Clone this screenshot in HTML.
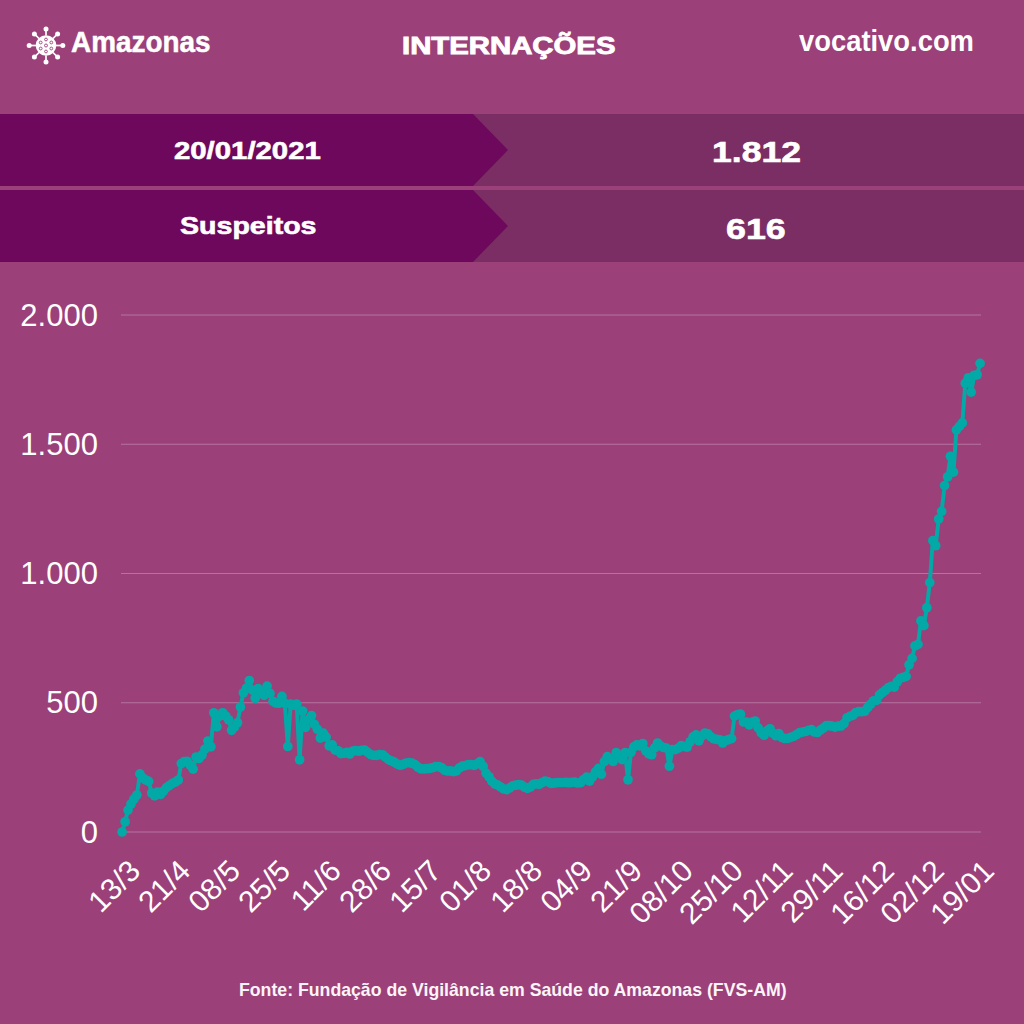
<!DOCTYPE html>
<html><head><meta charset="utf-8">
<style>
html,body{margin:0;padding:0;}
body{width:1024px;height:1024px;overflow:hidden;background:#9B4079;position:relative;font-family:"Liberation Sans",sans-serif;color:#fff;}
.a{position:absolute;white-space:nowrap;}
.band{position:absolute;left:0;width:1024px;height:72px;background:#7B2E63;}
.bl{position:absolute;left:0;top:0;width:508px;height:72px;background:#6E085C;clip-path:polygon(0 0,473px 0,508px 36px,473px 72px,0 72px);}
.hb{font-weight:bold;transform-origin:0 0;}
.xl{width:0;height:0;}
.xl span{position:absolute;right:0;top:0;font-size:30px;line-height:30px;transform-origin:100% 0;transform:rotate(-45deg);}
</style></head><body>
<svg class="a" style="left:0;top:0" width="1024" height="1024" viewBox="0 0 1024 1024">
<g stroke="#B573A1" stroke-width="1.2">
<line x1="121" y1="315" x2="981" y2="315"/>
<line x1="121" y1="444.25" x2="981" y2="444.25"/>
<line x1="121" y1="573.5" x2="981" y2="573.5"/>
<line x1="121" y1="702.75" x2="981" y2="702.75"/>
<line x1="121" y1="832" x2="981" y2="832"/>
</g>
<!--ICON-->
<g transform="translate(46,45.5)" fill="#fff" stroke="#fff">
<circle r="10.3" stroke="none"/>
<g stroke-width="1.7">
<line x1="0" y1="-10" x2="0" y2="-16.5"/><line x1="0" y1="10" x2="0" y2="16.5"/>
<line x1="-10" y1="0" x2="-16.8" y2="0"/><line x1="10" y1="0" x2="16.8" y2="0"/>
<line x1="7" y1="-7" x2="11.6" y2="-11.6"/><line x1="-7" y1="-7" x2="-11.6" y2="-11.6"/>
<line x1="7" y1="7" x2="11.6" y2="11.6"/><line x1="-7" y1="7" x2="-11.6" y2="11.6"/>
</g>
<g stroke="none">
<circle cx="0" cy="-16.5" r="2.5"/><circle cx="0" cy="16.5" r="2.5"/><circle cx="-16.8" cy="0" r="2.5"/><circle cx="16.8" cy="0" r="2.5"/>
<circle cx="11.6" cy="-11.6" r="2.5"/><circle cx="-11.6" cy="-11.6" r="2.5"/><circle cx="11.6" cy="11.6" r="2.5"/><circle cx="-11.6" cy="11.6" r="2.5"/>
</g>
<g fill="none" stroke="#9B4079" stroke-width="0.9">
<circle cx="0" cy="0" r="1.5"/><circle cx="0" cy="-6" r="1.4"/><circle cx="0" cy="6" r="1.4"/>
<circle cx="-5.3" cy="-3" r="1.4"/><circle cx="5.3" cy="-3" r="1.4"/><circle cx="-5.3" cy="3" r="1.4"/><circle cx="5.3" cy="3" r="1.4"/>
</g>
</g>
<path d="M122.1,832.0 L125.1,821.8 L128.0,810.1 L131.0,804.0 L133.9,799.2 L136.9,795.0 L139.9,773.9 L142.8,778.0 L145.8,780.0 L148.7,781.4 L151.7,793.0 L154.6,795.8 L157.6,792.0 L160.6,794.4 L163.5,791.0 L166.5,787.6 L169.4,785.5 L172.4,783.4 L175.4,782.0 L178.3,780.0 L181.3,763.5 L184.2,761.5 L187.2,761.3 L190.1,765.0 L193.1,769.1 L196.1,757.0 L199.0,758.5 L202.0,755.0 L204.9,749.0 L207.9,741.0 L210.9,746.8 L213.8,712.8 L216.8,726.8 L219.7,716.0 L222.7,712.8 L225.7,716.0 L228.6,719.8 L231.6,730.3 L234.5,727.0 L237.5,722.7 L240.4,707.0 L243.4,692.8 L246.4,688.1 L249.3,680.5 L252.3,690.0 L255.2,698.3 L258.2,688.6 L261.2,692.0 L264.1,695.4 L267.1,686.1 L270.0,693.4 L273.0,701.3 L275.9,703.0 L278.9,703.2 L281.9,696.4 L284.8,703.2 L287.8,746.5 L290.7,704.2 L293.7,705.2 L296.7,704.2 L299.6,759.8 L302.6,711.0 L305.5,727.3 L308.5,719.5 L311.5,715.6 L314.4,724.4 L317.4,729.3 L320.3,738.1 L323.3,733.2 L326.2,737.1 L329.2,745.9 L332.2,744.9 L335.1,750.0 L338.1,750.8 L341.0,753.6 L344.0,753.2 L347.0,752.4 L349.9,754.0 L352.9,751.0 L355.8,750.7 L358.8,751.2 L361.7,750.3 L364.7,750.2 L367.7,752.4 L370.6,754.6 L373.6,755.3 L376.5,755.3 L379.5,754.6 L382.5,754.8 L385.4,757.1 L388.4,759.6 L391.3,760.8 L394.3,762.2 L397.3,764.1 L400.2,765.2 L403.2,764.4 L406.1,763.0 L409.1,762.6 L412.0,763.2 L415.0,764.6 L418.0,767.2 L420.9,768.8 L423.9,768.9 L426.8,768.7 L429.8,768.4 L432.8,767.6 L435.7,766.7 L438.7,766.5 L441.6,767.7 L444.6,770.2 L447.5,771.0 L450.5,770.8 L453.5,771.6 L456.4,770.8 L459.4,767.9 L462.3,766.2 L465.3,765.6 L468.3,764.7 L471.2,764.7 L474.2,765.4 L477.1,763.9 L480.1,761.6 L483.1,766.3 L486.0,773.1 L489.0,776.8 L491.9,781.3 L494.9,784.0 L497.8,785.1 L500.8,787.1 L503.8,789.0 L506.7,789.6 L509.7,787.9 L512.6,785.9 L515.6,785.2 L518.6,784.7 L521.5,785.2 L524.5,787.2 L527.4,788.4 L530.4,787.0 L533.3,784.4 L536.3,783.8 L539.3,784.2 L542.2,782.5 L545.2,781.0 L548.1,781.8 L551.1,783.3 L554.1,783.1 L557.0,782.6 L560.0,782.5 L562.9,782.5 L565.9,782.4 L568.9,782.7 L571.8,782.3 L574.8,782.0 L577.7,783.0 L580.7,782.6 L583.6,779.5 L586.6,777.1 L589.6,781.1 L592.5,776.7 L595.5,771.9 L598.4,768.4 L601.4,774.2 L604.4,761.5 L607.3,756.6 L610.3,759.0 L613.2,761.5 L616.2,752.7 L619.1,756.3 L622.1,759.6 L625.1,752.7 L628.0,779.8 L631.0,752.3 L633.9,746.9 L636.9,744.9 L639.9,745.9 L642.8,743.5 L645.8,750.8 L648.7,753.7 L651.7,754.7 L654.7,747.9 L657.6,743.0 L660.6,745.9 L663.5,747.5 L666.5,748.1 L669.4,766.2 L672.4,749.6 L675.4,749.6 L678.3,748.1 L681.3,745.7 L684.2,746.6 L687.2,747.1 L690.2,741.8 L693.1,736.9 L696.1,734.9 L699.0,740.8 L702.0,735.9 L704.9,733.0 L707.9,733.9 L710.9,736.9 L713.8,738.8 L716.8,739.3 L719.7,739.8 L722.7,743.0 L725.7,740.6 L728.6,739.6 L731.6,738.6 L734.5,716.1 L737.5,714.7 L740.5,714.2 L743.4,722.0 L746.4,722.0 L749.3,724.9 L752.3,722.0 L755.2,721.0 L758.2,727.9 L761.2,732.7 L764.1,735.2 L767.1,730.8 L770.0,728.8 L773.0,733.2 L776.0,735.7 L778.9,733.7 L781.9,737.5 L784.8,738.5 L787.8,738.4 L790.7,737.4 L793.7,736.4 L796.7,734.5 L799.6,732.7 L802.6,732.0 L805.5,731.5 L808.5,730.3 L811.5,729.6 L814.4,732.0 L817.4,732.5 L820.3,730.1 L823.3,728.1 L826.3,725.7 L829.2,725.7 L832.2,726.2 L835.1,727.1 L838.1,726.2 L841.0,726.0 L844.0,723.5 L847.0,717.9 L849.9,716.4 L852.9,715.4 L855.8,712.5 L858.8,711.5 L861.8,711.7 L864.7,711.2 L867.7,707.6 L870.6,704.2 L873.6,700.8 L876.5,700.3 L879.5,694.9 L882.5,692.5 L885.4,690.3 L888.4,687.6 L891.3,686.4 L894.3,687.1 L897.3,681.8 L900.2,678.4 L903.2,677.4 L906.1,676.4 L909.1,664.7 L912.1,658.4 L915.0,645.9 L918.0,644.4 L920.9,620.9 L923.9,625.6 L926.8,607.7 L929.8,582.6 L932.8,540.6 L935.7,545.7 L938.7,519.0 L941.6,511.4 L944.6,485.6 L947.6,476.8 L950.5,456.3 L953.5,472.1 L956.4,429.9 L959.4,426.4 L962.3,422.9 L965.3,383.2 L968.3,377.8 L971.2,392.1 L974.2,375.3 L977.1,374.8 L980.1,363.4" fill="none" stroke="#02A9A6" stroke-width="4" stroke-linejoin="round"/><g fill="#02A9A6"><circle cx="122.1" cy="832.0" r="4.85"/><circle cx="125.1" cy="821.8" r="4.85"/><circle cx="128.0" cy="810.1" r="4.85"/><circle cx="131.0" cy="804.0" r="4.85"/><circle cx="133.9" cy="799.2" r="4.85"/><circle cx="136.9" cy="795.0" r="4.85"/><circle cx="139.9" cy="773.9" r="4.85"/><circle cx="142.8" cy="778.0" r="4.85"/><circle cx="145.8" cy="780.0" r="4.85"/><circle cx="148.7" cy="781.4" r="4.85"/><circle cx="151.7" cy="793.0" r="4.85"/><circle cx="154.6" cy="795.8" r="4.85"/><circle cx="157.6" cy="792.0" r="4.85"/><circle cx="160.6" cy="794.4" r="4.85"/><circle cx="163.5" cy="791.0" r="4.85"/><circle cx="166.5" cy="787.6" r="4.85"/><circle cx="169.4" cy="785.5" r="4.85"/><circle cx="172.4" cy="783.4" r="4.85"/><circle cx="175.4" cy="782.0" r="4.85"/><circle cx="178.3" cy="780.0" r="4.85"/><circle cx="181.3" cy="763.5" r="4.85"/><circle cx="184.2" cy="761.5" r="4.85"/><circle cx="187.2" cy="761.3" r="4.85"/><circle cx="190.1" cy="765.0" r="4.85"/><circle cx="193.1" cy="769.1" r="4.85"/><circle cx="196.1" cy="757.0" r="4.85"/><circle cx="199.0" cy="758.5" r="4.85"/><circle cx="202.0" cy="755.0" r="4.85"/><circle cx="204.9" cy="749.0" r="4.85"/><circle cx="207.9" cy="741.0" r="4.85"/><circle cx="210.9" cy="746.8" r="4.85"/><circle cx="213.8" cy="712.8" r="4.85"/><circle cx="216.8" cy="726.8" r="4.85"/><circle cx="219.7" cy="716.0" r="4.85"/><circle cx="222.7" cy="712.8" r="4.85"/><circle cx="225.7" cy="716.0" r="4.85"/><circle cx="228.6" cy="719.8" r="4.85"/><circle cx="231.6" cy="730.3" r="4.85"/><circle cx="234.5" cy="727.0" r="4.85"/><circle cx="237.5" cy="722.7" r="4.85"/><circle cx="240.4" cy="707.0" r="4.85"/><circle cx="243.4" cy="692.8" r="4.85"/><circle cx="246.4" cy="688.1" r="4.85"/><circle cx="249.3" cy="680.5" r="4.85"/><circle cx="252.3" cy="690.0" r="4.85"/><circle cx="255.2" cy="698.3" r="4.85"/><circle cx="258.2" cy="688.6" r="4.85"/><circle cx="261.2" cy="692.0" r="4.85"/><circle cx="264.1" cy="695.4" r="4.85"/><circle cx="267.1" cy="686.1" r="4.85"/><circle cx="270.0" cy="693.4" r="4.85"/><circle cx="273.0" cy="701.3" r="4.85"/><circle cx="275.9" cy="703.0" r="4.85"/><circle cx="278.9" cy="703.2" r="4.85"/><circle cx="281.9" cy="696.4" r="4.85"/><circle cx="284.8" cy="703.2" r="4.85"/><circle cx="287.8" cy="746.5" r="4.85"/><circle cx="290.7" cy="704.2" r="4.85"/><circle cx="293.7" cy="705.2" r="4.85"/><circle cx="296.7" cy="704.2" r="4.85"/><circle cx="299.6" cy="759.8" r="4.85"/><circle cx="302.6" cy="711.0" r="4.85"/><circle cx="305.5" cy="727.3" r="4.85"/><circle cx="308.5" cy="719.5" r="4.85"/><circle cx="311.5" cy="715.6" r="4.85"/><circle cx="314.4" cy="724.4" r="4.85"/><circle cx="317.4" cy="729.3" r="4.85"/><circle cx="320.3" cy="738.1" r="4.85"/><circle cx="323.3" cy="733.2" r="4.85"/><circle cx="326.2" cy="737.1" r="4.85"/><circle cx="329.2" cy="745.9" r="4.85"/><circle cx="332.2" cy="744.9" r="4.85"/><circle cx="335.1" cy="750.0" r="4.85"/><circle cx="338.1" cy="750.8" r="4.85"/><circle cx="341.0" cy="753.6" r="4.85"/><circle cx="344.0" cy="753.2" r="4.85"/><circle cx="347.0" cy="752.4" r="4.85"/><circle cx="349.9" cy="754.0" r="4.85"/><circle cx="352.9" cy="751.0" r="4.85"/><circle cx="355.8" cy="750.7" r="4.85"/><circle cx="358.8" cy="751.2" r="4.85"/><circle cx="361.7" cy="750.3" r="4.85"/><circle cx="364.7" cy="750.2" r="4.85"/><circle cx="367.7" cy="752.4" r="4.85"/><circle cx="370.6" cy="754.6" r="4.85"/><circle cx="373.6" cy="755.3" r="4.85"/><circle cx="376.5" cy="755.3" r="4.85"/><circle cx="379.5" cy="754.6" r="4.85"/><circle cx="382.5" cy="754.8" r="4.85"/><circle cx="385.4" cy="757.1" r="4.85"/><circle cx="388.4" cy="759.6" r="4.85"/><circle cx="391.3" cy="760.8" r="4.85"/><circle cx="394.3" cy="762.2" r="4.85"/><circle cx="397.3" cy="764.1" r="4.85"/><circle cx="400.2" cy="765.2" r="4.85"/><circle cx="403.2" cy="764.4" r="4.85"/><circle cx="406.1" cy="763.0" r="4.85"/><circle cx="409.1" cy="762.6" r="4.85"/><circle cx="412.0" cy="763.2" r="4.85"/><circle cx="415.0" cy="764.6" r="4.85"/><circle cx="418.0" cy="767.2" r="4.85"/><circle cx="420.9" cy="768.8" r="4.85"/><circle cx="423.9" cy="768.9" r="4.85"/><circle cx="426.8" cy="768.7" r="4.85"/><circle cx="429.8" cy="768.4" r="4.85"/><circle cx="432.8" cy="767.6" r="4.85"/><circle cx="435.7" cy="766.7" r="4.85"/><circle cx="438.7" cy="766.5" r="4.85"/><circle cx="441.6" cy="767.7" r="4.85"/><circle cx="444.6" cy="770.2" r="4.85"/><circle cx="447.5" cy="771.0" r="4.85"/><circle cx="450.5" cy="770.8" r="4.85"/><circle cx="453.5" cy="771.6" r="4.85"/><circle cx="456.4" cy="770.8" r="4.85"/><circle cx="459.4" cy="767.9" r="4.85"/><circle cx="462.3" cy="766.2" r="4.85"/><circle cx="465.3" cy="765.6" r="4.85"/><circle cx="468.3" cy="764.7" r="4.85"/><circle cx="471.2" cy="764.7" r="4.85"/><circle cx="474.2" cy="765.4" r="4.85"/><circle cx="477.1" cy="763.9" r="4.85"/><circle cx="480.1" cy="761.6" r="4.85"/><circle cx="483.1" cy="766.3" r="4.85"/><circle cx="486.0" cy="773.1" r="4.85"/><circle cx="489.0" cy="776.8" r="4.85"/><circle cx="491.9" cy="781.3" r="4.85"/><circle cx="494.9" cy="784.0" r="4.85"/><circle cx="497.8" cy="785.1" r="4.85"/><circle cx="500.8" cy="787.1" r="4.85"/><circle cx="503.8" cy="789.0" r="4.85"/><circle cx="506.7" cy="789.6" r="4.85"/><circle cx="509.7" cy="787.9" r="4.85"/><circle cx="512.6" cy="785.9" r="4.85"/><circle cx="515.6" cy="785.2" r="4.85"/><circle cx="518.6" cy="784.7" r="4.85"/><circle cx="521.5" cy="785.2" r="4.85"/><circle cx="524.5" cy="787.2" r="4.85"/><circle cx="527.4" cy="788.4" r="4.85"/><circle cx="530.4" cy="787.0" r="4.85"/><circle cx="533.3" cy="784.4" r="4.85"/><circle cx="536.3" cy="783.8" r="4.85"/><circle cx="539.3" cy="784.2" r="4.85"/><circle cx="542.2" cy="782.5" r="4.85"/><circle cx="545.2" cy="781.0" r="4.85"/><circle cx="548.1" cy="781.8" r="4.85"/><circle cx="551.1" cy="783.3" r="4.85"/><circle cx="554.1" cy="783.1" r="4.85"/><circle cx="557.0" cy="782.6" r="4.85"/><circle cx="560.0" cy="782.5" r="4.85"/><circle cx="562.9" cy="782.5" r="4.85"/><circle cx="565.9" cy="782.4" r="4.85"/><circle cx="568.9" cy="782.7" r="4.85"/><circle cx="571.8" cy="782.3" r="4.85"/><circle cx="574.8" cy="782.0" r="4.85"/><circle cx="577.7" cy="783.0" r="4.85"/><circle cx="580.7" cy="782.6" r="4.85"/><circle cx="583.6" cy="779.5" r="4.85"/><circle cx="586.6" cy="777.1" r="4.85"/><circle cx="589.6" cy="781.1" r="4.85"/><circle cx="592.5" cy="776.7" r="4.85"/><circle cx="595.5" cy="771.9" r="4.85"/><circle cx="598.4" cy="768.4" r="4.85"/><circle cx="601.4" cy="774.2" r="4.85"/><circle cx="604.4" cy="761.5" r="4.85"/><circle cx="607.3" cy="756.6" r="4.85"/><circle cx="610.3" cy="759.0" r="4.85"/><circle cx="613.2" cy="761.5" r="4.85"/><circle cx="616.2" cy="752.7" r="4.85"/><circle cx="619.1" cy="756.3" r="4.85"/><circle cx="622.1" cy="759.6" r="4.85"/><circle cx="625.1" cy="752.7" r="4.85"/><circle cx="628.0" cy="779.8" r="4.85"/><circle cx="631.0" cy="752.3" r="4.85"/><circle cx="633.9" cy="746.9" r="4.85"/><circle cx="636.9" cy="744.9" r="4.85"/><circle cx="639.9" cy="745.9" r="4.85"/><circle cx="642.8" cy="743.5" r="4.85"/><circle cx="645.8" cy="750.8" r="4.85"/><circle cx="648.7" cy="753.7" r="4.85"/><circle cx="651.7" cy="754.7" r="4.85"/><circle cx="654.7" cy="747.9" r="4.85"/><circle cx="657.6" cy="743.0" r="4.85"/><circle cx="660.6" cy="745.9" r="4.85"/><circle cx="663.5" cy="747.5" r="4.85"/><circle cx="666.5" cy="748.1" r="4.85"/><circle cx="669.4" cy="766.2" r="4.85"/><circle cx="672.4" cy="749.6" r="4.85"/><circle cx="675.4" cy="749.6" r="4.85"/><circle cx="678.3" cy="748.1" r="4.85"/><circle cx="681.3" cy="745.7" r="4.85"/><circle cx="684.2" cy="746.6" r="4.85"/><circle cx="687.2" cy="747.1" r="4.85"/><circle cx="690.2" cy="741.8" r="4.85"/><circle cx="693.1" cy="736.9" r="4.85"/><circle cx="696.1" cy="734.9" r="4.85"/><circle cx="699.0" cy="740.8" r="4.85"/><circle cx="702.0" cy="735.9" r="4.85"/><circle cx="704.9" cy="733.0" r="4.85"/><circle cx="707.9" cy="733.9" r="4.85"/><circle cx="710.9" cy="736.9" r="4.85"/><circle cx="713.8" cy="738.8" r="4.85"/><circle cx="716.8" cy="739.3" r="4.85"/><circle cx="719.7" cy="739.8" r="4.85"/><circle cx="722.7" cy="743.0" r="4.85"/><circle cx="725.7" cy="740.6" r="4.85"/><circle cx="728.6" cy="739.6" r="4.85"/><circle cx="731.6" cy="738.6" r="4.85"/><circle cx="734.5" cy="716.1" r="4.85"/><circle cx="737.5" cy="714.7" r="4.85"/><circle cx="740.5" cy="714.2" r="4.85"/><circle cx="743.4" cy="722.0" r="4.85"/><circle cx="746.4" cy="722.0" r="4.85"/><circle cx="749.3" cy="724.9" r="4.85"/><circle cx="752.3" cy="722.0" r="4.85"/><circle cx="755.2" cy="721.0" r="4.85"/><circle cx="758.2" cy="727.9" r="4.85"/><circle cx="761.2" cy="732.7" r="4.85"/><circle cx="764.1" cy="735.2" r="4.85"/><circle cx="767.1" cy="730.8" r="4.85"/><circle cx="770.0" cy="728.8" r="4.85"/><circle cx="773.0" cy="733.2" r="4.85"/><circle cx="776.0" cy="735.7" r="4.85"/><circle cx="778.9" cy="733.7" r="4.85"/><circle cx="781.9" cy="737.5" r="4.85"/><circle cx="784.8" cy="738.5" r="4.85"/><circle cx="787.8" cy="738.4" r="4.85"/><circle cx="790.7" cy="737.4" r="4.85"/><circle cx="793.7" cy="736.4" r="4.85"/><circle cx="796.7" cy="734.5" r="4.85"/><circle cx="799.6" cy="732.7" r="4.85"/><circle cx="802.6" cy="732.0" r="4.85"/><circle cx="805.5" cy="731.5" r="4.85"/><circle cx="808.5" cy="730.3" r="4.85"/><circle cx="811.5" cy="729.6" r="4.85"/><circle cx="814.4" cy="732.0" r="4.85"/><circle cx="817.4" cy="732.5" r="4.85"/><circle cx="820.3" cy="730.1" r="4.85"/><circle cx="823.3" cy="728.1" r="4.85"/><circle cx="826.3" cy="725.7" r="4.85"/><circle cx="829.2" cy="725.7" r="4.85"/><circle cx="832.2" cy="726.2" r="4.85"/><circle cx="835.1" cy="727.1" r="4.85"/><circle cx="838.1" cy="726.2" r="4.85"/><circle cx="841.0" cy="726.0" r="4.85"/><circle cx="844.0" cy="723.5" r="4.85"/><circle cx="847.0" cy="717.9" r="4.85"/><circle cx="849.9" cy="716.4" r="4.85"/><circle cx="852.9" cy="715.4" r="4.85"/><circle cx="855.8" cy="712.5" r="4.85"/><circle cx="858.8" cy="711.5" r="4.85"/><circle cx="861.8" cy="711.7" r="4.85"/><circle cx="864.7" cy="711.2" r="4.85"/><circle cx="867.7" cy="707.6" r="4.85"/><circle cx="870.6" cy="704.2" r="4.85"/><circle cx="873.6" cy="700.8" r="4.85"/><circle cx="876.5" cy="700.3" r="4.85"/><circle cx="879.5" cy="694.9" r="4.85"/><circle cx="882.5" cy="692.5" r="4.85"/><circle cx="885.4" cy="690.3" r="4.85"/><circle cx="888.4" cy="687.6" r="4.85"/><circle cx="891.3" cy="686.4" r="4.85"/><circle cx="894.3" cy="687.1" r="4.85"/><circle cx="897.3" cy="681.8" r="4.85"/><circle cx="900.2" cy="678.4" r="4.85"/><circle cx="903.2" cy="677.4" r="4.85"/><circle cx="906.1" cy="676.4" r="4.85"/><circle cx="909.1" cy="664.7" r="4.85"/><circle cx="912.1" cy="658.4" r="4.85"/><circle cx="915.0" cy="645.9" r="4.85"/><circle cx="918.0" cy="644.4" r="4.85"/><circle cx="920.9" cy="620.9" r="4.85"/><circle cx="923.9" cy="625.6" r="4.85"/><circle cx="926.8" cy="607.7" r="4.85"/><circle cx="929.8" cy="582.6" r="4.85"/><circle cx="932.8" cy="540.6" r="4.85"/><circle cx="935.7" cy="545.7" r="4.85"/><circle cx="938.7" cy="519.0" r="4.85"/><circle cx="941.6" cy="511.4" r="4.85"/><circle cx="944.6" cy="485.6" r="4.85"/><circle cx="947.6" cy="476.8" r="4.85"/><circle cx="950.5" cy="456.3" r="4.85"/><circle cx="953.5" cy="472.1" r="4.85"/><circle cx="956.4" cy="429.9" r="4.85"/><circle cx="959.4" cy="426.4" r="4.85"/><circle cx="962.3" cy="422.9" r="4.85"/><circle cx="965.3" cy="383.2" r="4.85"/><circle cx="968.3" cy="377.8" r="4.85"/><circle cx="971.2" cy="392.1" r="4.85"/><circle cx="974.2" cy="375.3" r="4.85"/><circle cx="977.1" cy="374.8" r="4.85"/><circle cx="980.1" cy="363.4" r="4.85"/></g>
</svg>
<div class="a hb" id="t-amaz" style="left:71px;top:26.3px;font-size:29px;transform:scaleX(0.962);-webkit-text-stroke:0.5px #fff;">Amazonas</div>
<div class="a hb" id="t-int" style="left:402px;top:32.4px;font-size:24px;transform:scaleX(1.222);-webkit-text-stroke:0.9px #fff;">INTERNAÇÕES</div>
<div class="a hb" id="t-voc" style="left:799.4px;top:25px;font-size:29px;transform:scaleX(0.944);">vocativo.com</div>
<div class="band" style="top:114px"><div class="bl"></div></div>
<div class="band" style="top:190px"><div class="bl"></div></div>
<div class="a hb" id="t-date" style="left:173.8px;top:137.2px;font-size:24px;transform:scaleX(1.222);-webkit-text-stroke:0.6px #fff;">20/01/2021</div>
<div class="a hb" id="t-susp" style="left:179.5px;top:211.6px;font-size:24px;transform:scaleX(1.19);-webkit-text-stroke:0.6px #fff;">Suspeitos</div>
<div class="a hb" id="t-1812" style="left:712px;top:135.3px;font-size:29.5px;transform:scaleX(1.205);-webkit-text-stroke:0.6px #fff;">1.812</div>
<div class="a hb" id="t-616" style="left:725.5px;top:211.5px;font-size:29.5px;transform:scaleX(1.215);-webkit-text-stroke:0.6px #fff;">616</div>
<div class="a" style="right:926.1px;top:297.6px;font-size:31px;line-height:36px;text-align:right;">2.000</div>
<div class="a" style="right:926.1px;top:426.85px;font-size:31px;line-height:36px;text-align:right;">1.500</div>
<div class="a" style="right:926.1px;top:556.1px;font-size:31px;line-height:36px;text-align:right;">1.000</div>
<div class="a" style="right:926.1px;top:685.35px;font-size:31px;line-height:36px;text-align:right;">500</div>
<div class="a" style="right:926.1px;top:814.6px;font-size:31px;line-height:36px;text-align:right;">0</div>

<div class="a xl" style="left:124.0px;top:854.7px;"><span>13/3</span></div>
<div class="a xl" style="left:174.2px;top:854.7px;"><span>21/4</span></div>
<div class="a xl" style="left:224.5px;top:854.7px;"><span>08/5</span></div>
<div class="a xl" style="left:274.7px;top:854.7px;"><span>25/5</span></div>
<div class="a xl" style="left:324.9px;top:854.7px;"><span>11/6</span></div>
<div class="a xl" style="left:375.2px;top:854.7px;"><span>28/6</span></div>
<div class="a xl" style="left:425.4px;top:854.7px;"><span>15/7</span></div>
<div class="a xl" style="left:475.7px;top:854.7px;"><span>01/8</span></div>
<div class="a xl" style="left:525.9px;top:854.7px;"><span>18/8</span></div>
<div class="a xl" style="left:576.1px;top:854.7px;"><span>04/9</span></div>
<div class="a xl" style="left:626.4px;top:854.7px;"><span>21/9</span></div>
<div class="a xl" style="left:676.6px;top:854.7px;"><span>08/10</span></div>
<div class="a xl" style="left:726.8px;top:854.7px;"><span>25/10</span></div>
<div class="a xl" style="left:777.1px;top:854.7px;"><span>12/11</span></div>
<div class="a xl" style="left:827.3px;top:854.7px;"><span>29/11</span></div>
<div class="a xl" style="left:877.6px;top:854.7px;"><span>16/12</span></div>
<div class="a xl" style="left:927.8px;top:854.7px;"><span>02/12</span></div>
<div class="a xl" style="left:978.0px;top:854.7px;"><span>19/01</span></div>

<div class="a" id="t-foot" style="left:238.6px;top:980.3px;font-size:17.8px;font-weight:bold;color:#FBF4F8;transform:scaleX(0.995);transform-origin:0 0;">Fonte: Fundação de Vigilância em Saúde do Amazonas (FVS-AM)</div>
</body></html>
